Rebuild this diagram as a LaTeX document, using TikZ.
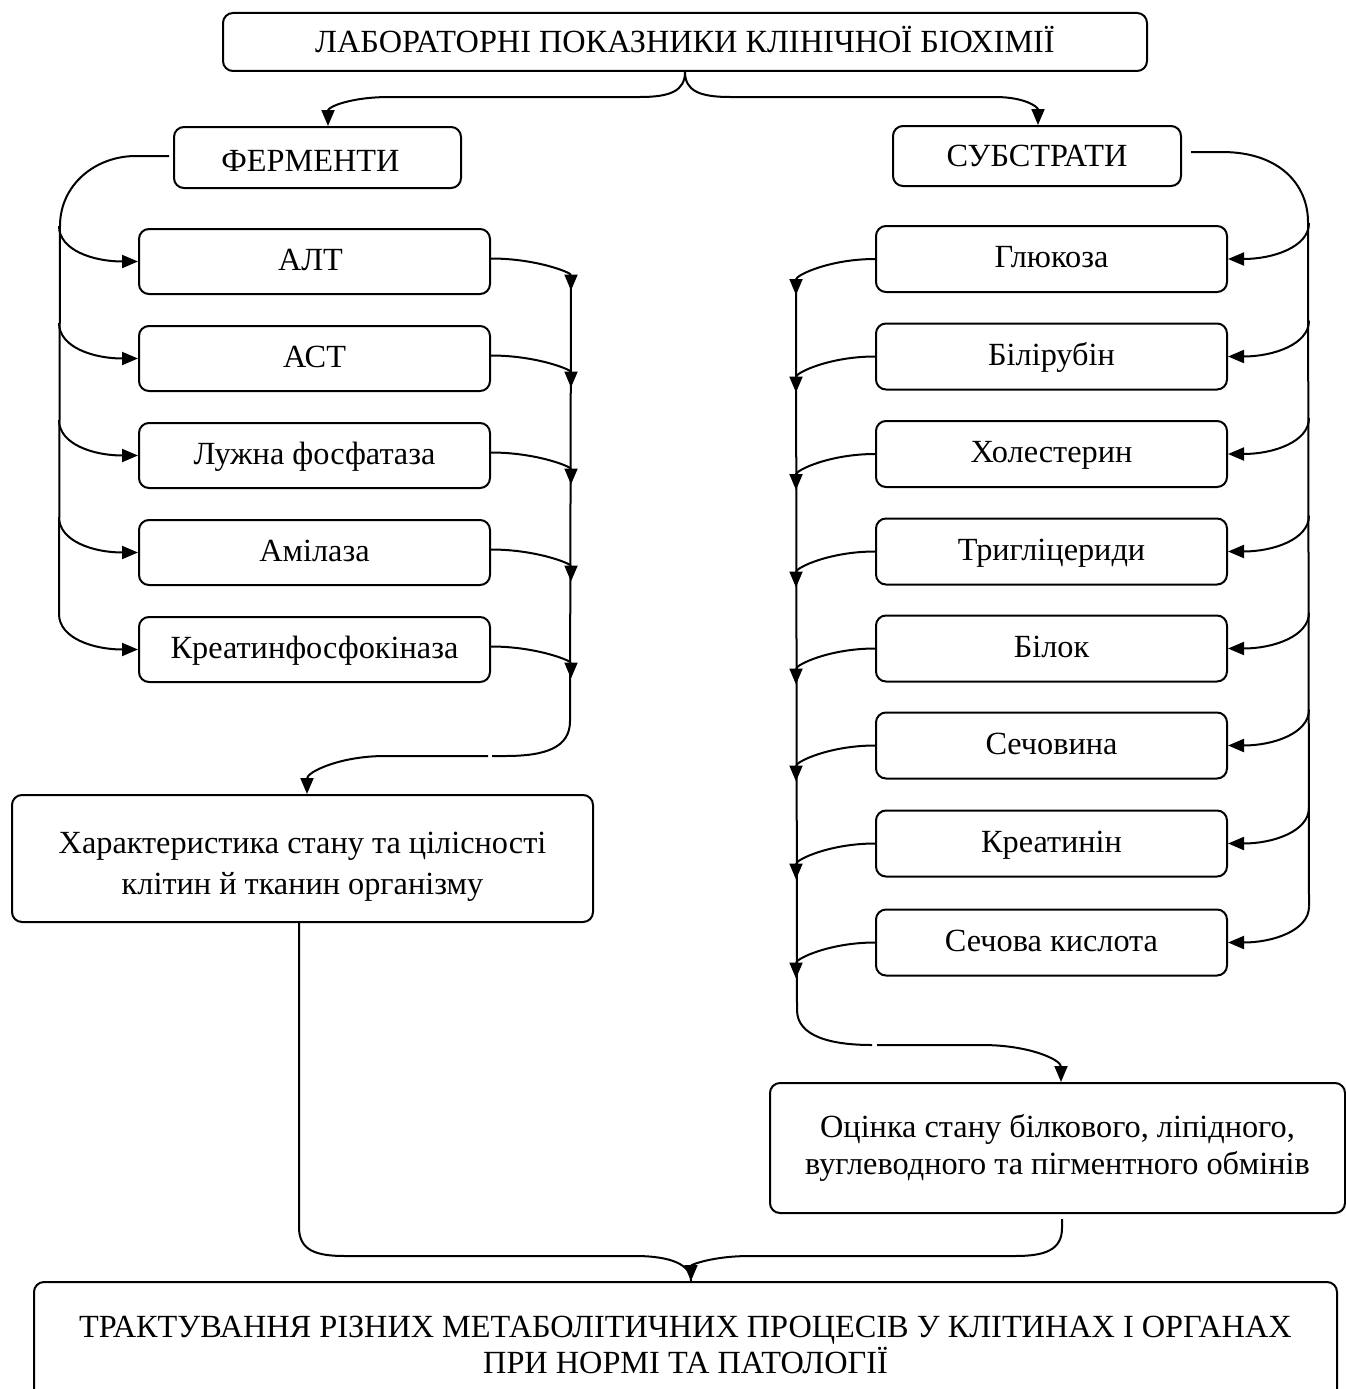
\documentclass[tikz,border=0pt]{standalone}
\usepackage{fontspec}
\setmainfont{Liberation Serif}
\usetikzlibrary{arrows.meta,calc}
\begin{document}
\begin{tikzpicture}[x=1pt,y=-1pt,
  ln/.style={line width=2pt},
  arr/.style={ln,-{Triangle[length=16pt,width=13pt]}},
  box/.style={draw,line width=2pt,rounded corners=10pt,inner sep=0pt,align=center,
              font=\fontsize{32.3}{37}\selectfont},
  head/.style={box,text height=22pt,text depth=1pt},
  item/.style={box,text height=22pt,text depth=5pt,minimum width=351pt,minimum height=65pt}]
\useasboundingbox (0,0) rectangle (1346,1389);
\clip (0,0) rectangle (1346,1389);

% headings
\node[head,minimum width=924pt,minimum height=58pt] (top) at (685,42)
  {ЛАБОРАТОРНІ ПОКАЗНИКИ КЛІНІЧНОЇ БІОХІМІЇ};
\node[head,text height=28pt,minimum width=287pt,minimum height=61pt] (ferm) at (317.5,157.5)
  {ФЕРМЕНТИ\kern14pt};
\node[head,minimum width=288pt,minimum height=60pt] (subs) at (1037,156) {СУБСТРАТИ};

% enzymes
\node[item] (alt) at (314.5,261.5) {АЛТ\kern8pt};
\node[item] (ast) at (314.5,358.5) {АСТ};
\node[item] (alp) at (314.5,455.5) {Лужна фосфатаза};
\node[item] (amy) at (314.5,552.5) {Амілаза};
\node[item] (cpk) at (314.5,649.5) {Креатинфосфокіназа};

% substrates
\node[item,minimum height=66pt] (glu)  at (1051.5,259)   {Глюкоза};
\node[item,minimum height=66pt] (bil)  at (1051.5,356.5) {Білірубін};
\node[item,minimum height=66pt] (chol) at (1051.5,454)   {Холестерин};
\node[item,minimum height=66pt] (tg)   at (1051.5,551.5) {Тригліцериди};
\node[item,minimum height=66pt] (prot) at (1051.5,648.5) {Білок};
\node[item,minimum height=66pt] (urea) at (1051.5,745.5) {Сечовина};
\node[item,minimum height=66pt] (crea) at (1051.5,843.5) {Креатинін};
\node[item,minimum height=66pt] (uric) at (1051.5,942.5) {Сечова кислота};

% conclusions
\node[box,minimum width=581pt,minimum height=127pt,font=\fontsize{32.3}{41}\selectfont] (cells)
  at (302.5,858.5) {\rule{0pt}{38pt}Характеристика стану та цілісності\\клітин й тканин організму};
\node[box,minimum width=575pt,minimum height=130pt] (metab) at (1057.5,1148)
  {Оцінка стану білкового, ліпідного,\\вуглеводного та пігментного обмінів};
\node[box,minimum width=1303pt,minimum height=126pt,font=\fontsize{32.3}{36}\selectfont] (final)
  at (685.5,1345)
  {ТРАКТУВАННЯ РІЗНИХ МЕТАБОЛІТИЧНИХ ПРОЦЕСІВ У КЛІТИНАХ І ОРГАНАХ\\ПРИ НОРМІ ТА ПАТОЛОГІЇ};

% split from the top heading
\draw[arr] (top.south) .. controls +(0,19) and (670,97) .. (640,97) -- (390,97)
  .. controls (350,97) and ($(ferm.north)+(10.5,-19)$) .. ($(ferm.north)+(10.5,0)$);
\draw[arr] (top.south) .. controls +(0,19) and (700,97) .. (730,97) -- (995,97)
  .. controls (1025,97) and ($(subs.north)+(1,-18)$) .. ($(subs.north)+(1,0)$);

% enzyme bus
\draw[ln] ($(ferm.west)+(-4,-1.5)$) -- (136,156) .. controls (95,156) and (60,185) .. (60,226)
  -- ($(cpk.north west)+(-79,-2)$);
\foreach \n in {alt,ast,alp,amy,cpk}{
  \draw[arr] ($(\n.north west)+(-79,-2)$) .. controls +(0,24) and +(-45,0) .. (\n.west);
  \draw[arr] ($(\n.east)+(0,-3)$) .. controls +(45,0) and +(0,-18) .. ($(\n.east)+(80,29)$);
}
\draw[ln] ($(alt.east)+(80,18)$) -- (570,721) .. controls (570,748) and (545,756) .. (505,756)
  -- (492,756);
\draw[arr] (488,756) -- (385,756) .. controls (340,756) and ($(cells.north)+(4.5,-22)$)
  .. ($(cells.north)+(4.5,0)$);

% substrate bus
\draw[ln] ($(subs.east)+(9,-4)$) -- (1222,152) .. controls (1280,152) and (1308,185) .. (1308,222)
  -- ($(uric.north east)+(81,-2)$);
\foreach \n in {glu,bil,chol,tg,prot,urea,crea,uric}{
  \draw[arr] ($(\n.north east)+(81,-2)$) .. controls +(0,24) and +(45,0) .. (\n.east);
  \draw[arr] (\n.west) .. controls +(-45,0) and +(0,-20) .. ($(\n.west)+(-79,36)$);
}
\draw[ln] ($(glu.west)+(-79,24)$) -- (797,1010) .. controls (797,1036) and (830,1045) .. (872,1045);
\draw[arr] (877,1045) -- (982,1045) .. controls (1030,1045) and ($(metab.north)+(3.5,-22)$)
  .. ($(metab.north)+(3.5,0)$);

% merge into the final block
\draw[ln] ($(cells.south)+(-3.5,0)$) -- (299,1227) .. controls (299,1250) and (315,1256) .. (345,1256)
  -- (635,1256) .. controls (672,1256) and ($(final.north)+(5.5,-16)$) .. ($(final.north)+(5.5,0)$);
\draw[arr] ($(metab.south)+(4.5,5)$) -- (1062,1228) .. controls (1062,1250) and (1045,1256) .. (1015,1256)
  -- (750,1256) .. controls (712,1256) and ($(final.north)+(5.5,-16)$) .. ($(final.north)+(5.5,0)$);
\end{tikzpicture}
\end{document}
